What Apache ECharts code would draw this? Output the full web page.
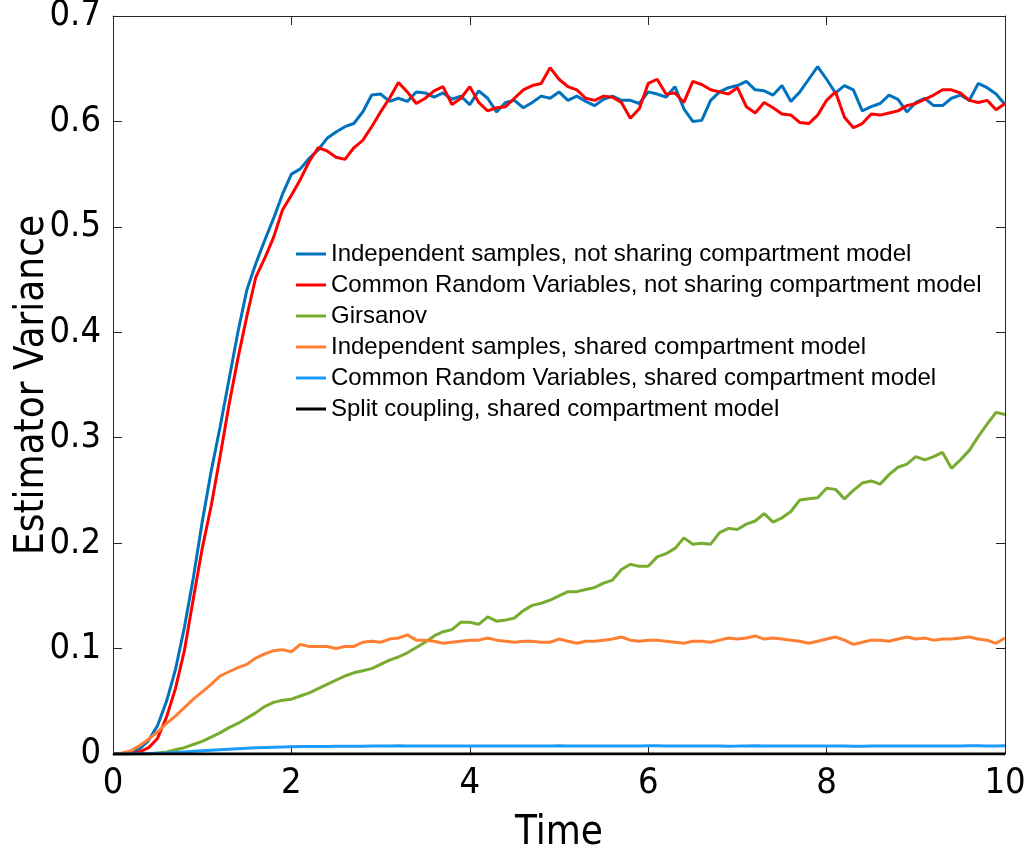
<!DOCTYPE html>
<html>
<head>
<meta charset="utf-8">
<script src="https://cdn.jsdelivr.net/npm/echarts@6/dist/echarts.min.js"></script>
<style>
html,body{margin:0;padding:0;background:#fff;}
#chart{width:1029px;height:852px;}
</style>
</head>
<body>
<div id="chart"></div>
<script>
const time = [0,0.1,0.2,0.3,0.4,0.5,0.6,0.7,0.8,0.9,1,1.1,1.2,1.3,1.4,1.5,1.6,1.7,1.8,1.9,2,2.1,2.2,2.3,2.4,2.5,2.6,2.7,2.8,2.9,3,3.1,3.2,3.3,3.4,3.5,3.6,3.7,3.8,3.9,4,4.1,4.2,4.3,4.4,4.5,4.6,4.7,4.8,4.9,5,5.1,5.2,5.3,5.4,5.5,5.6,5.7,5.8,5.9,6,6.1,6.2,6.3,6.4,6.5,6.6,6.7,6.8,6.9,7,7.1,7.2,7.3,7.4,7.5,7.6,7.7,7.8,7.9,8,8.1,8.2,8.3,8.4,8.5,8.6,8.7,8.8,8.9,9,9.1,9.2,9.3,9.4,9.5,9.6,9.7,9.8,9.9,10];

const indepNotShared = [0,0,0.001,0.005,0.013,0.027,0.050,0.080,0.120,0.167,0.220,0.268,0.310,0.355,0.400,0.440,0.465,0.487,0.508,0.531,0.550,0.555,0.565,0.573,0.584,0.590,0.595,0.598,0.609,0.625,0.626,0.619,0.622,0.619,0.628,0.627,0.623,0.627,0.621,0.624,0.616,0.629,0.622,0.609,0.618,0.620,0.613,0.618,0.624,0.622,0.628,0.620,0.624,0.619,0.615,0.621,0.624,0.620,0.620,0.617,0.628,0.626,0.623,0.633,0.612,0.600,0.601,0.620,0.628,0.632,0.634,0.638,0.630,0.629,0.625,0.634,0.619,0.628,0.640,0.652,0.640,0.627,0.634,0.630,0.610,0.614,0.617,0.625,0.621,0.609,0.618,0.622,0.615,0.615,0.622,0.625,0.620,0.636,0.632,0.626,0.616];

const crvNotShared = [0,0,0,0.002,0.006,0.015,0.035,0.062,0.098,0.147,0.195,0.235,0.282,0.331,0.375,0.415,0.452,0.470,0.490,0.516,0.530,0.545,0.562,0.575,0.572,0.566,0.564,0.575,0.582,0.595,0.609,0.622,0.637,0.628,0.617,0.622,0.629,0.633,0.616,0.622,0.633,0.618,0.610,0.613,0.614,0.622,0.630,0.634,0.636,0.651,0.640,0.633,0.630,0.622,0.620,0.624,0.623,0.618,0.603,0.612,0.636,0.640,0.626,0.627,0.618,0.638,0.635,0.630,0.628,0.626,0.632,0.614,0.608,0.618,0.613,0.607,0.606,0.599,0.598,0.606,0.620,0.628,0.604,0.594,0.598,0.607,0.606,0.608,0.610,0.615,0.617,0.621,0.625,0.630,0.630,0.627,0.620,0.618,0.620,0.611,0.617];

const girsanov = [0,0,0,0,0,0.001,0.002,0.004,0.006,0.009,0.012,0.016,0.020,0.025,0.029,0.034,0.039,0.045,0.049,0.051,0.052,0.055,0.058,0.062,0.066,0.070,0.074,0.077,0.079,0.081,0.085,0.089,0.092,0.096,0.101,0.106,0.112,0.116,0.118,0.125,0.125,0.123,0.130,0.126,0.127,0.129,0.136,0.141,0.143,0.146,0.150,0.154,0.154,0.156,0.158,0.162,0.165,0.175,0.180,0.178,0.178,0.187,0.190,0.195,0.205,0.199,0.200,0.199,0.210,0.214,0.213,0.218,0.221,0.228,0.220,0.224,0.230,0.241,0.242,0.243,0.252,0.251,0.242,0.250,0.257,0.259,0.256,0.265,0.272,0.275,0.282,0.279,0.282,0.286,0.271,0.279,0.288,0.301,0.313,0.324,0.322];

const indepShared = [0,0.001,0.003,0.008,0.014,0.021,0.029,0.036,0.044,0.052,0.059,0.066,0.074,0.078,0.082,0.085,0.091,0.095,0.098,0.099,0.097,0.104,0.102,0.102,0.102,0.100,0.102,0.102,0.106,0.107,0.106,0.109,0.110,0.113,0.108,0.108,0.107,0.105,0.106,0.107,0.108,0.108,0.110,0.108,0.107,0.106,0.107,0.107,0.106,0.106,0.109,0.107,0.105,0.107,0.107,0.108,0.109,0.111,0.108,0.107,0.108,0.108,0.107,0.106,0.105,0.107,0.107,0.106,0.108,0.110,0.109,0.110,0.112,0.109,0.110,0.109,0.108,0.107,0.105,0.107,0.109,0.111,0.108,0.104,0.106,0.108,0.108,0.107,0.109,0.111,0.109,0.110,0.108,0.109,0.109,0.110,0.111,0.109,0.108,0.105,0.110];

const crvShared = [0,0,0,0.0002,0.0004,0.0007,0.0010,0.0015,0.0020,0.0025,0.0030,0.0035,0.0040,0.0045,0.0050,0.0055,0.0060,0.0062,0.0064,0.0066,0.0068,0.0070,0.0071,0.0072,0.0072,0.0073,0.0073,0.0074,0.0074,0.0075,0.0076,0.0077,0.0078,0.0077,0.0076,0.0075,0.0075,0.0076,0.0076,0.0075,0.0076,0.0077,0.0076,0.0075,0.0076,0.0077,0.0076,0.0075,0.0076,0.0077,0.0078,0.0077,0.0077,0.0076,0.0075,0.0076,0.0077,0.0076,0.0075,0.0077,0.0078,0.0078,0.0077,0.0076,0.0076,0.0077,0.0077,0.0076,0.0075,0.0074,0.0075,0.0077,0.0078,0.0077,0.0076,0.0076,0.0077,0.0076,0.0075,0.0075,0.0076,0.0076,0.0075,0.0074,0.0074,0.0075,0.0076,0.0077,0.0076,0.0075,0.0076,0.0077,0.0077,0.0076,0.0076,0.0077,0.0078,0.0078,0.0077,0.0077,0.0078];

const splitCoupling = [0,0,0,0,0,0,0,0,0,0,0,0,0,0,0,0,0,0,0,0,0,0,0,0,0,0,0,0,0,0,0,0,0,0,0,0,0,0,0,0,0,0,0,0,0,0,0,0,0,0,0,0,0,0,0,0,0,0,0,0,0,0,0,0,0,0,0,0,0,0,0,0,0,0,0,0,0,0,0,0,0,0,0,0,0,0,0,0,0,0,0,0,0,0,0,0,0,0,0,0,0];

const seriesNames = [
  'Independent samples, not sharing compartment model',
  'Common Random Variables, not sharing compartment model',
  'Girsanov',
  'Independent samples, shared compartment model',
  'Common Random Variables, shared compartment model',
  'Split coupling, shared compartment model'
];
const seriesValues = [indepNotShared, crvNotShared, girsanov, indepShared, crvShared, splitCoupling];
const seriesColors = ['#0072BD', '#FF0000', '#77AC30', '#FF7F33', '#1A9CFF', '#000000'];

const xTicks = {min: 0, max: 10, interval: 2};
const yTicks = {min: 0, max: 0.7, interval: 0.1};

const FONT = '"Liberation Sans", Arial, Helvetica, sans-serif';
const NARROW = '"Liberation Sans Narrow", "Arial Narrow", "DejaVu Sans Condensed", sans-serif';
const axisColor = '#262626';

const chart = echarts.init(document.getElementById('chart'), null, {renderer: 'canvas'});

const series = seriesNames.map((name, i) => ({
  name: name,
  type: 'line',
  xAxisIndex: 0,
  yAxisIndex: 0,
  symbol: 'none',
  smooth: false,
  animation: false,
  lineStyle: {width: 3, color: seriesColors[i]},
  itemStyle: {color: seriesColors[i]},
  data: time.map((t, k) => [t, seriesValues[i][k]]),
  z: 10 + i
}));

function baseAxis(extra) {
  return Object.assign({
    type: 'value',
    splitLine: {show: false},
    axisLine: {show: true, onZero: false, lineStyle: {color: axisColor, width: 1}},
    axisTick: {show: true, inside: true, length: 9, lineStyle: {color: axisColor, width: 1}},
    minorTick: {show: false}
  }, extra);
}

const option = {
  backgroundColor: '#ffffff',
  animation: false,
  grid: {left: 113, right: 24, top: 16, bottom: 98, containLabel: false, outerBoundsMode: 'none'},
  legend: {
    orient: 'vertical',
    left: 291,
    top: 237,
    itemWidth: 30,
    itemHeight: 3,
    itemGap: 7,
    icon: 'rect',
    textStyle: {fontFamily: FONT, fontSize: 24, color: '#000', padding: [0, 0, 0, 0]},
    data: seriesNames
  },
  xAxis: [
    baseAxis(Object.assign({
      position: 'bottom',
      name: 'Time',
      nameLocation: 'middle',
      nameGap: 60,
      nameMoveOverlap: false,
      nameTextStyle: {fontFamily: NARROW, fontSize: 40, color: '#000'},
      axisLabel: {fontFamily: NARROW, fontSize: 36, color: '#000', margin: 12}
    }, xTicks)),
    baseAxis(Object.assign({position: 'top', axisLabel: {show: false}}, xTicks))
  ],
  yAxis: [
    baseAxis(Object.assign({
      position: 'left',
      name: 'Estimator Variance',
      nameLocation: 'middle',
      nameGap: 60,
      nameMoveOverlap: false,
      nameTextStyle: {fontFamily: NARROW, fontSize: 40, color: '#000'},
      axisLabel: {fontFamily: NARROW, fontSize: 36, color: '#000', margin: 12, padding: [6, 0, 0, 0]}
    }, yTicks)),
    baseAxis(Object.assign({position: 'right', axisLabel: {show: false}}, yTicks))
  ],
  series: series
};

chart.setOption(option);
</script>
</body>
</html>
